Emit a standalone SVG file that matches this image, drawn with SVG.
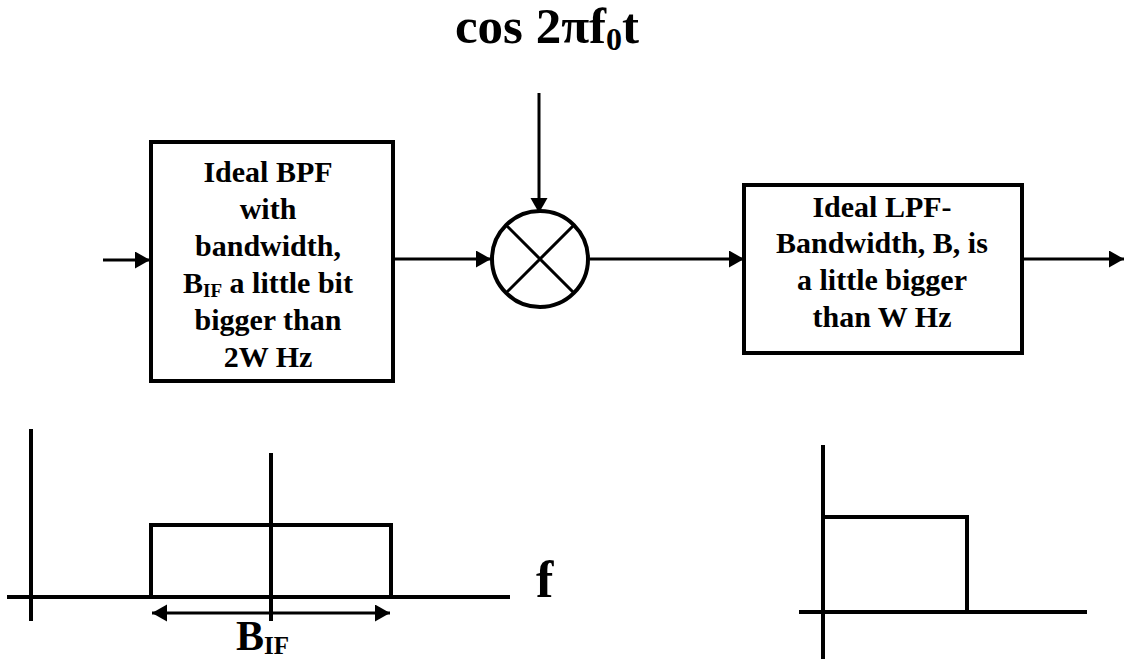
<svg xmlns="http://www.w3.org/2000/svg" width="1125" height="659" viewBox="0 0 1125 659">
<style>
text{font-family:"Liberation Serif","Times New Roman",serif;font-weight:bold;fill:#000}
.lbl{font-size:30px;text-anchor:middle}
.box{fill:#fff;stroke:#000;stroke-width:4}
.ln{stroke:#000;stroke-width:3;fill:none}
.ax{stroke:#000;stroke-width:4;fill:none}
</style>
<defs>
<marker id="ah" markerUnits="userSpaceOnUse" markerWidth="16" markerHeight="18" refX="15" refY="8.5" orient="auto-start-reverse" viewBox="0 0 16 18">
<path d="M0,0 L15,8.5 L0,17 Z" fill="#000"/>
</marker>
</defs>
<g id="title">
<text x="547" y="43" font-size="51" text-anchor="middle">cos 2πf<tspan font-size="32" dy="7">0</tspan><tspan dy="-7">t</tspan></text>
</g>
<g id="bpf">
<rect class="box" x="151" y="142" width="242" height="239"/>
<text class="lbl" x="268" y="182">Ideal BPF</text>
<text class="lbl" x="268" y="219">with</text>
<text class="lbl" x="268" y="256">bandwidth,</text>
<text class="lbl" x="268" y="293">B<tspan font-size="19" dy="4">IF</tspan><tspan dy="-4"> a little bit</tspan></text>
<text class="lbl" x="268" y="330">bigger than</text>
<text class="lbl" x="268" y="367">2W Hz</text>
</g>
<g id="mixer">
<circle cx="540" cy="259" r="48" fill="#fff" stroke="#000" stroke-width="4"/>
<path class="ln" d="M506,225 L574,293 M574,225 L506,293"/>
</g>
<g id="lpf">
<rect class="box" x="744" y="185" width="278" height="168"/>
<text class="lbl" x="882" y="217">Ideal LPF-</text>
<text class="lbl" x="882" y="253">Bandwidth, B, is</text>
<text class="lbl" x="882" y="290">a little bigger</text>
<text class="lbl" x="882" y="327">than W Hz</text>
</g>
<g id="connectors">
<line class="ln" x1="103" y1="260" x2="150" y2="260" marker-end="url(#ah)"/>
<line class="ln" x1="395" y1="259" x2="491" y2="259" marker-end="url(#ah)"/>
<line class="ln" x1="539" y1="93" x2="539" y2="213" marker-end="url(#ah)"/>
<line class="ln" x1="590" y1="259" x2="744" y2="259" marker-end="url(#ah)"/>
<line class="ln" x1="1023" y1="259" x2="1124" y2="259" marker-end="url(#ah)"/>
</g>
<g id="bpf-spectrum">
<line class="ax" x1="31" y1="429" x2="31" y2="621"/>
<line class="ax" x1="7" y1="597" x2="510" y2="597"/>
<line class="ax" x1="271" y1="453" x2="271" y2="621"/>
<path class="ax" d="M151,597 V525 H391 V597"/>
<line class="ln" x1="152" y1="613" x2="390" y2="613" marker-start="url(#ah)" marker-end="url(#ah)"/>
<text x="536" y="597" font-size="52">f</text>
<text x="236" y="650" font-size="42">B<tspan font-size="25" dy="4">IF</tspan></text>
</g>
<g id="lpf-spectrum">
<line class="ax" x1="823" y1="445" x2="823" y2="659"/>
<line class="ax" x1="799" y1="612" x2="1087" y2="612"/>
<path class="ax" d="M823,517 H967 V612"/>
</g>
</svg>
